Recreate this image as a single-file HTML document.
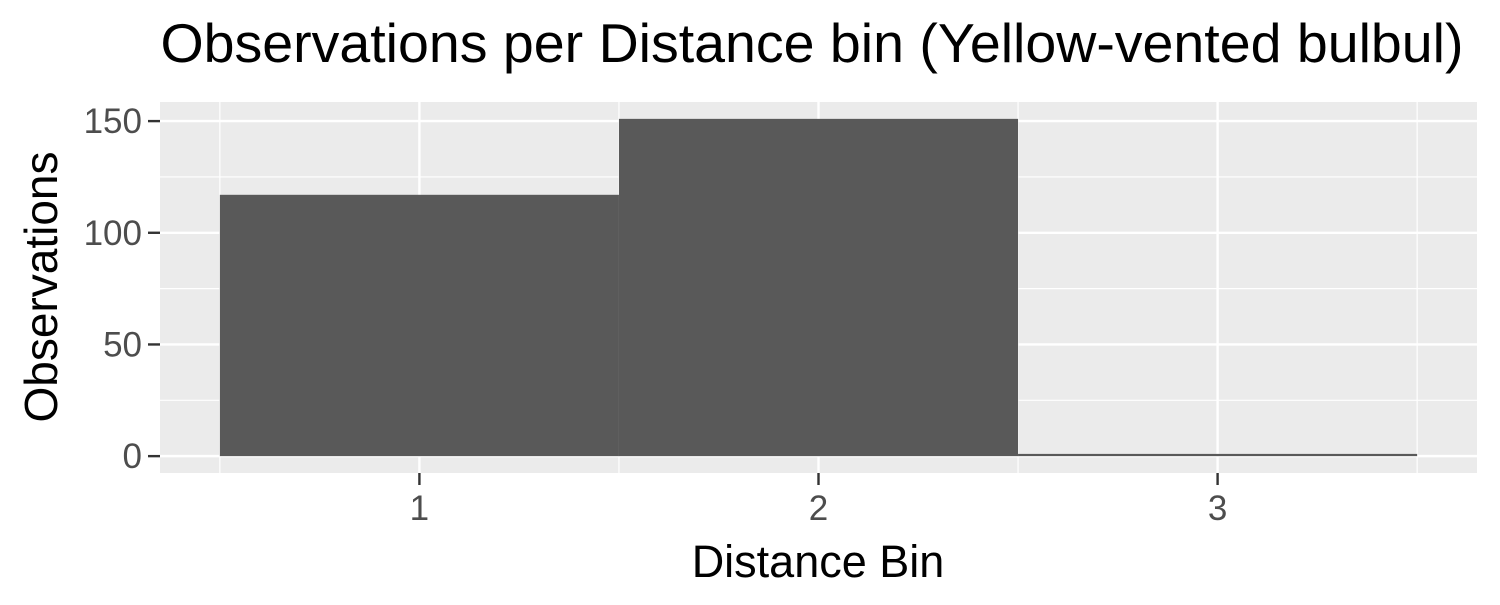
<!DOCTYPE html>
<html><head><meta charset="utf-8"><style>
body{margin:0;background:#fff;width:1500px;height:600px;overflow:hidden}
text{font-family:"Liberation Sans",sans-serif}
</style></head><body>
<svg id="chart" width="1500" height="600" xmlns="http://www.w3.org/2000/svg">
<rect width="1500" height="600" fill="#fff"/>
<text x="812" y="62" font-size="55" text-anchor="middle" fill="#000" textLength="1303" lengthAdjust="spacingAndGlyphs">Observations per Distance bin (Yellow-vented bulbul)</text>
<rect x="160" y="102" width="1317" height="371" fill="#ebebeb"/>
<g id="grid"></g><g id="bars"></g><g id="axes"></g>
<text x="818" y="577" font-size="45" text-anchor="middle" fill="#000">Distance Bin</text>
<text transform="translate(57,287) rotate(-90)" font-size="46" text-anchor="middle" fill="#000">Observations</text>
</svg>
<script>
const categories=[1,2,3];
const observations=[117,151,1];
const yTicks=[0,50,100,150];
const xTicks=[1,2,3];
const ns="http://www.w3.org/2000/svg";
const X0=160,X1=1477,Y0=473,Y1=102;
const xmin=0.35,xmax=3.65,ymin=-7.55,ymax=158.55;
function sx(v){return X0+(v-xmin)/(xmax-xmin)*(X1-X0);}
function sy(v){return Y0-(v-ymin)/(ymax-ymin)*(Y0-Y1);}
function mk(tag,attrs,parent){const e=document.createElementNS(ns,tag);for(const k in attrs)e.setAttribute(k,attrs[k]);parent.appendChild(e);return e;}
const grid=document.getElementById('grid'),bars=document.getElementById('bars'),axes=document.getElementById('axes');
for(let i=0;i<yTicks.length-1;i++){const m=(yTicks[i]+yTicks[i+1])/2;
 const l=mk('line',{x1:X0,x2:X1,y1:sy(m),y2:sy(m),stroke:'#fff','stroke-width':1.2},grid);
 }
for(let i=0;i<xTicks.length+1;i++){const m=xTicks[0]-0.5+i;
 const l=mk('line',{x1:sx(m),x2:sx(m),y1:Y0,y2:Y1,stroke:'#fff','stroke-width':1.2},grid);
 }
yTicks.forEach(t=>{const y=sy(t);
 const l=mk('line',{x1:X0,x2:X1,y1:y,y2:y,stroke:'#fff','stroke-width':2.4},grid);
 
 const tk=mk('line',{x1:148,x2:160,y1:y,y2:y,stroke:'#333','stroke-width':2.4},axes);
 
 const tx=mk('text',{x:142,y:y+12,'font-size':35,'text-anchor':'end',fill:'#4d4d4d'},axes);tx.textContent=t;
 });
xTicks.forEach(t=>{const x=sx(t);
 const l=mk('line',{x1:x,x2:x,y1:Y0,y2:Y1,stroke:'#fff','stroke-width':2.4},grid);
 
 const tk=mk('line',{x1:x,x2:x,y1:473,y2:485,stroke:'#333','stroke-width':2.4},axes);
 
 const tx=mk('text',{x:x,y:520,'font-size':35,'text-anchor':'middle',fill:'#4d4d4d'},axes);tx.textContent=t;
 });
categories.forEach((c,i)=>{const v=observations[i];
 const r=mk('rect',{x:sx(c-0.5),width:sx(c+0.5)-sx(c-0.5),y:sy(v),height:sy(0)-sy(v),fill:'#595959'},bars);
 });
</script>
</body></html>
